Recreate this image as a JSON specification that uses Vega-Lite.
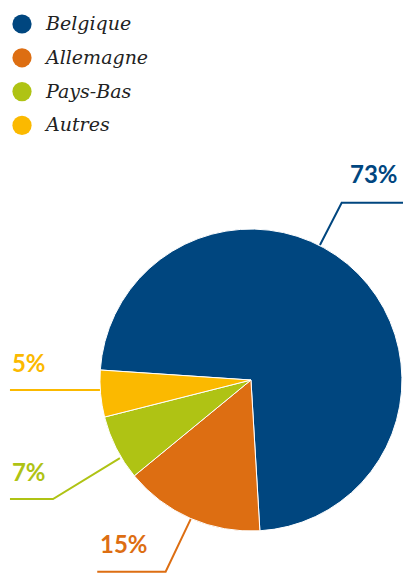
{
  "$schema": "https://vega.github.io/schema/vega-lite/v6.json",
  "width": 403,
  "height": 573,
  "padding": 0,
  "autosize": {"type": "none"},
  "background": "#ffffff",
  "config": {"view": {"stroke": null}},
  "datasets": {
    "parts": [
      {"pays": "Belgique", "part": 0.73, "rang": 1},
      {"pays": "Allemagne", "part": 0.15, "rang": 2},
      {"pays": "Pays-Bas", "part": 0.07, "rang": 3},
      {"pays": "Autres", "part": 0.05, "rang": 4}
    ],
    "etiquettes": [
      {"pays": "Belgique", "x": 0.656, "y": 1.354},
      {"pays": "Allemagne", "x": -1.0, "y": -1.096},
      {"pays": "Pays-Bas", "x": -1.583, "y": -0.623},
      {"pays": "Autres", "x": -1.583, "y": 0.099}
    ],
    "reperes": [
      {"pays": "Belgique", "pt": 1, "x": 0.457, "y": 0.894},
      {"pays": "Belgique", "pt": 2, "x": 0.601, "y": 1.174},
      {"pays": "Belgique", "pt": 3, "x": 1.007, "y": 1.174},
      {"pays": "Allemagne", "pt": 1, "x": -0.399, "y": -0.921},
      {"pays": "Allemagne", "pt": 2, "x": -0.565, "y": -1.27},
      {"pays": "Allemagne", "pt": 3, "x": -1.018, "y": -1.27},
      {"pays": "Pays-Bas", "pt": 1, "x": -0.868, "y": -0.517},
      {"pays": "Pays-Bas", "pt": 2, "x": -1.311, "y": -0.788},
      {"pays": "Pays-Bas", "pt": 3, "x": -1.596, "y": -0.788},
      {"pays": "Autres", "pt": 1, "x": -1.0, "y": -0.066},
      {"pays": "Autres", "pt": 2, "x": -1.596, "y": -0.066}
    ]
  },
  "resolve": {"scale": {"x": "shared", "y": "shared", "color": "shared"}},
  "layer": [
    {
      "data": {"name": "parts"},
      "mark": {"type": "arc", "outerRadius": 151, "stroke": "#ffffff", "strokeWidth": 1},
      "encoding": {
        "x": {"datum": 0, "type": "quantitative", "scale": {"domain": [-1.662, 1.007], "nice": false, "zero": false}, "axis": null},
        "y": {"datum": 0, "type": "quantitative", "scale": {"domain": [-1.278, 2.517], "nice": false, "zero": false}, "axis": null},
        "theta": {"field": "part", "type": "quantitative", "stack": true, "scale": {"range": [4.779, 11.062]}},
        "order": {"field": "rang", "type": "quantitative"},
        "color": {
          "field": "pays",
          "type": "nominal",
          "sort": ["Belgique", "Allemagne", "Pays-Bas", "Autres"],
          "scale": {"domain": ["Belgique", "Allemagne", "Pays-Bas", "Autres"], "range": ["#00467f", "#dd6e12", "#afc314", "#fbb900"]},
          "legend": {
            "title": null,
            "orient": "none",
            "legendX": 12,
            "legendY": 14,
            "padding": 0,
            "symbolType": "circle",
            "symbolSize": 370,
            "symbolStrokeWidth": 0,
            "rowPadding": 13.8,
            "labelOffset": 14,
            "labelFont": "DejaVu Serif",
            "labelFontStyle": "italic",
            "labelFontSize": 19,
            "labelColor": "#222222",
            "labelLimit": 300
          }
        }
      }
    },
    {
      "data": {"name": "reperes"},
      "mark": {"type": "line", "strokeWidth": 2},
      "encoding": {
        "x": {"field": "x", "type": "quantitative"},
        "y": {"field": "y", "type": "quantitative"},
        "order": {"field": "pt", "type": "quantitative"},
        "color": {"field": "pays", "type": "nominal", "legend": null}
      }
    },
    {
      "data": {"name": "etiquettes"},
      "transform": [
        {"lookup": "pays", "from": {"data": {"name": "parts"}, "key": "pays", "fields": ["part"]}}
      ],
      "mark": {"type": "text", "align": "left", "baseline": "middle", "font": "Lato", "fontWeight": "bold", "fontSize": 24},
      "encoding": {
        "x": {"field": "x", "type": "quantitative"},
        "y": {"field": "y", "type": "quantitative"},
        "text": {"field": "part", "type": "quantitative", "format": ".0%"},
        "color": {"field": "pays", "type": "nominal", "legend": null}
      }
    }
  ]
}
